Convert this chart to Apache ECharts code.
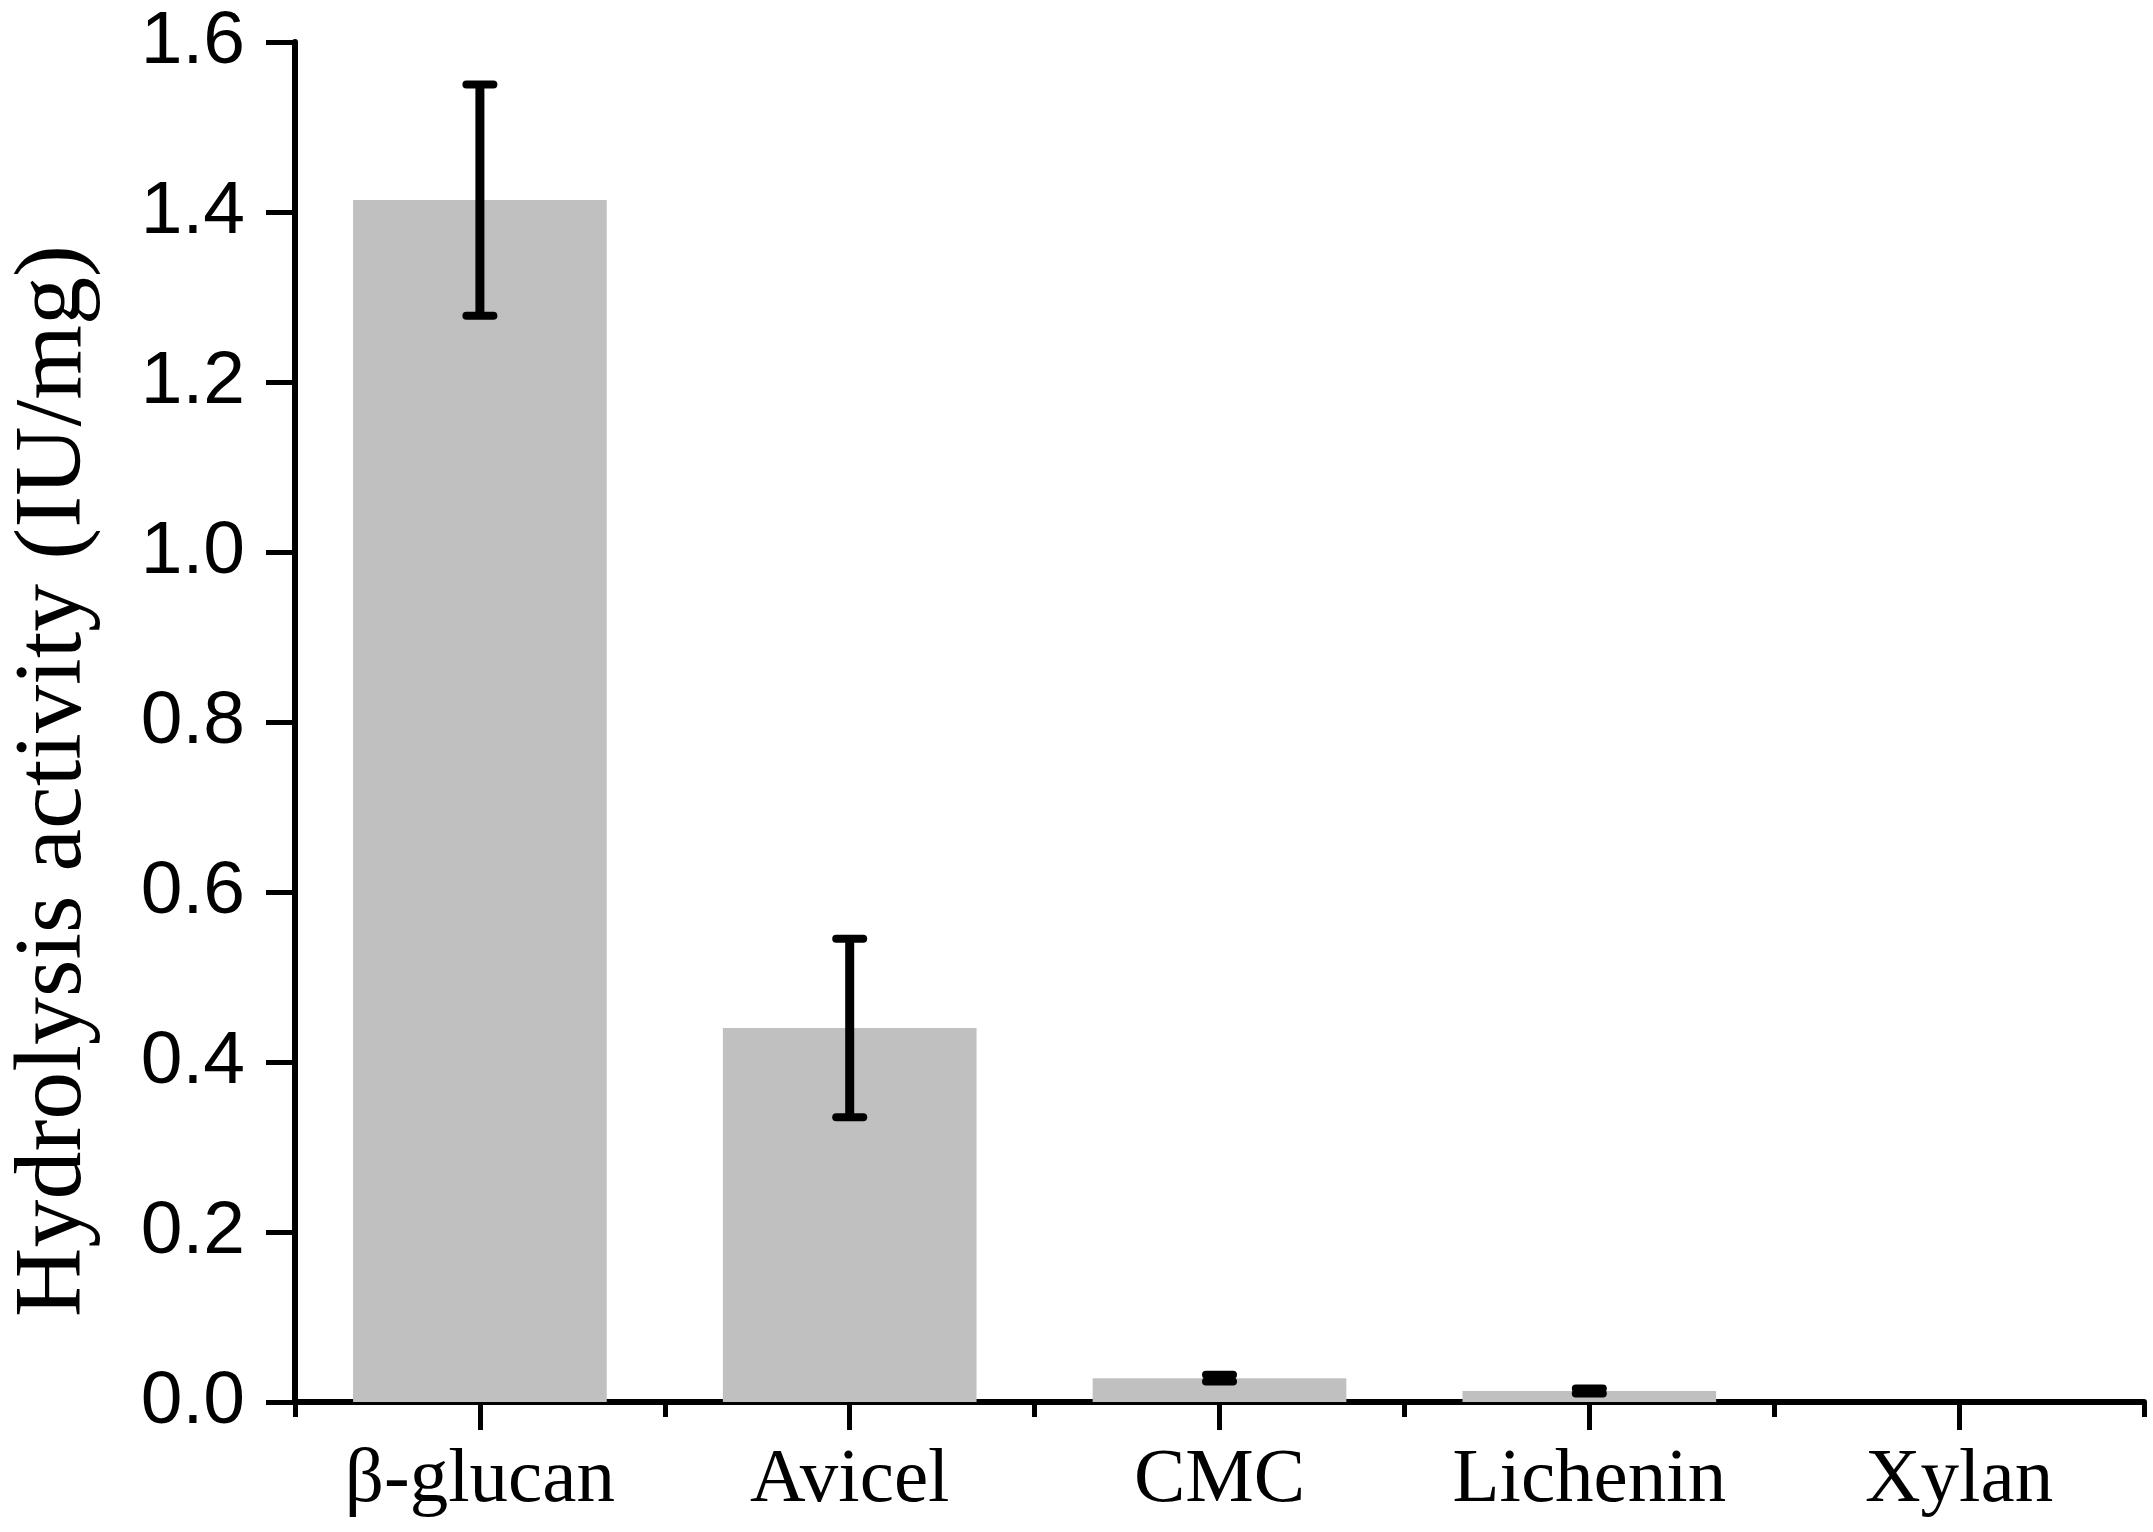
<!DOCTYPE html>
<html>
<head>
<meta charset="utf-8">
<script src="https://cdn.jsdelivr.net/npm/echarts@6/dist/echarts.min.js"></script>
<style>
html,body{margin:0;padding:0;background:#fff;}
#c{width:2153px;height:1532px;}
</style>
</head>
<body>
<div id="c"></div>
<script>
const categories = ['β-glucan', 'Avicel', 'CMC', 'Lichenin', 'Xylan'];
const activity = [1.414, 0.440, 0.028, 0.013, 0];
const errors = [0.136, 0.105, 0.004, 0.003, null];
const yTicks = [0, 0.2, 0.4, 0.6, 0.8, 1.0, 1.2, 1.4, 1.6];

const chart = echarts.init(document.getElementById('c'));
const errData = categories.map((c, i) => errors[i] == null ? null : [i, activity[i] - errors[i], activity[i] + errors[i]]).filter(d => d);

chart.setOption({
  animation: false,
  backgroundColor: '#ffffff',
  grid: { left: 295, right: 9, top: 42, bottom: 130, containLabel: false, outerBoundsMode: 'none' },
  xAxis: [
    {
      type: 'category',
      data: categories,
      boundaryGap: true,
      axisLine: { show: true, lineStyle: { color: '#000', width: 6 } },
      axisTick: { show: true, alignWithLabel: true, length: 28, lineStyle: { color: '#000', width: 5 } },
      axisLabel: { color: '#000', fontFamily: 'Liberation Serif', fontSize: 77, margin: 40 },
      splitLine: { show: false }
    },
    {
      type: 'category',
      data: categories,
      boundaryGap: true,
      position: 'bottom',
      axisLine: { show: false },
      axisTick: { show: true, length: 15, lineStyle: { color: '#000', width: 5 } },
      axisLabel: { show: false },
      splitLine: { show: false }
    }
  ],
  yAxis: {
    type: 'value',
    min: yTicks[0],
    max: yTicks[yTicks.length - 1],
    interval: 0.2,
    name: 'Hydrolysis activity (IU/mg)',
    nameLocation: 'middle',
    nameGap: 192,
    nameRotate: 90,
    nameTextStyle: { color: '#000', fontFamily: 'Liberation Serif', fontSize: 96, padding: [0, 118, 0, 0] },
    axisLine: { show: true, lineStyle: { color: '#000', width: 6 } },
    axisTick: { show: true, length: 29, lineStyle: { color: '#000', width: 5 } },
    axisLabel: { color: '#000', fontFamily: 'Liberation Sans', fontSize: 75, margin: 50, formatter: v => v.toFixed(1) },
    splitLine: { show: false }
  },
  series: [
    {
      type: 'bar',
      data: activity,
      barWidth: '68.6%',
      itemStyle: { color: '#c0c0c0' },
      z: 1
    },
    {
      type: 'custom',
      data: errData,
      z: 5,
      renderItem: function (params, api) {
        const x = api.value(0);
        const lo = api.coord([x, api.value(1)]);
        const hi = api.coord([x, api.value(2)]);
        const half = 13.5;
        const capStyle = { stroke: '#000', lineWidth: 8, lineCap: 'round' };
        return {
          type: 'group',
          children: [
            { type: 'line', shape: { x1: lo[0], y1: lo[1], x2: hi[0], y2: hi[1] }, style: { stroke: '#000', lineWidth: 9 } },
            { type: 'line', shape: { x1: hi[0] - half, y1: hi[1], x2: hi[0] + half, y2: hi[1] }, style: capStyle },
            { type: 'line', shape: { x1: lo[0] - half, y1: lo[1], x2: lo[0] + half, y2: lo[1] }, style: capStyle }
          ]
        };
      }
    }
  ]
});
</script>
</body>
</html>
